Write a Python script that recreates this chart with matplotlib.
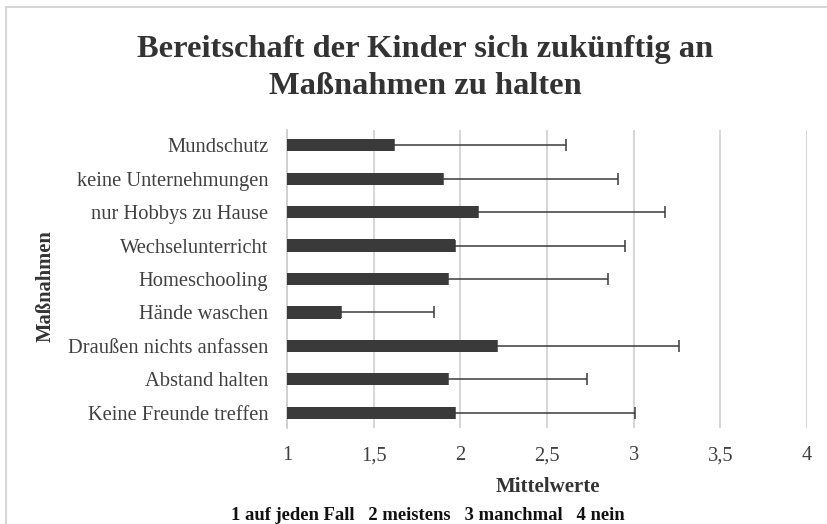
import matplotlib
matplotlib.use("Agg")
import matplotlib.pyplot as plt
from matplotlib.patches import Rectangle

categories = ["Mundschutz", "keine Unternehmungen", "nur Hobbys zu Hause",
              "Wechselunterricht", "Homeschooling", "Hände waschen",
              "Draußen nichts anfassen", "Abstand halten", "Keine Freunde treffen"]
means = [1.62, 1.90, 2.10, 1.97, 1.93, 1.31, 2.21, 1.93, 1.97]
upper = [2.61, 2.91, 3.18, 2.95, 2.85, 1.85, 3.26, 2.73, 3.01]
xticks = [1, 1.5, 2, 2.5, 3, 3.5, 4]
xticklabels = ["1", "1,5", "2", "2,5", "3", "3,5", "4"]

plt.rcParams['font.family'] = ['Liberation Serif', 'DejaVu Serif']

W, H = 828, 524
fig = plt.figure(figsize=(W/100, H/100), dpi=100)
ax = fig.add_axes([287/W, 1-428/H, (807-287)/W, (428-130)/H])

ypos = list(range(len(categories)))
errs = [u - m for u, m in zip(upper, means)]
ax.barh(ypos, [m - 1 for m in means], left=1, height=0.36, color="#3a3a3a", zorder=3)
ax.errorbar(means, ypos, xerr=[[0]*len(errs), errs], fmt="none", ecolor="#3a3a3a",
            elinewidth=1.1, capsize=4, capthick=1.1, zorder=4)

ax.set_xlim(1, 4)
ax.set_ylim(8.45, -0.45)
ax.set_xticks(xticks)
ax.set_xticklabels(xticklabels)
ax.set_yticks(ypos)
ax.set_yticklabels(categories)
ax.tick_params(axis='both', length=0, labelsize=14.8, colors="#404040")
ax.tick_params(axis='x', pad=13)
ax.tick_params(axis='y', pad=13.5)
ax.grid(axis='x', color="#d0d0d0", linewidth=1.2, zorder=0)
for s in ["top", "right", "bottom"]:
    ax.spines[s].set_visible(False)
ax.spines["left"].set_color("#c8c8c8")
ax.spines["left"].set_linewidth(1.2)
ax.spines["left"].set_zorder(1)

fig.text(425/W, 1-68/H, "Bereitschaft der Kinder sich zukünftig an\nMaßnahmen zu halten",
         ha="center", va="center", fontsize=23.4, fontweight="bold", color="#333333",
         linespacing=1.36)
fig.text(548/W, 1-487/H, "Mittelwerte", ha="center", va="center",
         fontsize=15, fontweight="bold", color="#333333")
fig.text(46/W, 1-286/H, "Maßnahmen", ha="center", va="center", rotation=90,
         fontsize=14.8, fontweight="bold", color="#333333")
fig.text(428/W, 1-516/H, "1 auf jeden Fall   2 meistens   3 manchmal   4 nein",
         ha="center", va="center", fontsize=13.4, fontweight="bold", color="#111111")

fig.patches.append(Rectangle((6/W, -0.1), 1.2, 1.1 - 7/H, transform=fig.transFigure,
                             fill=False, edgecolor="#d0d0d0", linewidth=1.2))

fig.savefig("out.png", dpi=100, facecolor="white")
